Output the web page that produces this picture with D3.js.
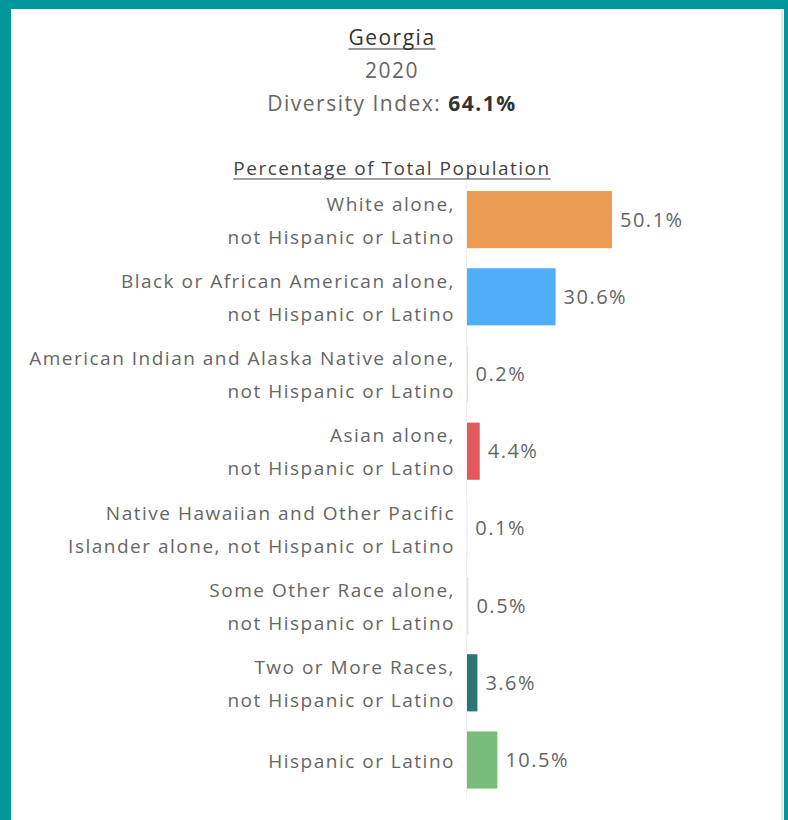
<!DOCTYPE html>
<html>
<head>
<meta charset="utf-8">
<script src="https://cdn.jsdelivr.net/npm/d3@7"></script>
<style>
  body { margin: 0; background: #00979a; }
  text { font-family: "Open Sans", sans-serif; letter-spacing: 1.5px; }
</style>
</head>
<body>
<script>
var width = 788;
var height = 820;

var stateName = "Georgia";
var year = "2020";
var diversityIndex = "64.1%";

var categories = [
    ["White alone,", "not Hispanic or Latino"],
    ["Black or African American alone,", "not Hispanic or Latino"],
    ["American Indian and Alaska Native alone,", "not Hispanic or Latino"],
    ["Asian alone,", "not Hispanic or Latino"],
    ["Native Hawaiian and Other Pacific", "Islander alone, not Hispanic or Latino"],
    ["Some Other Race alone,", "not Hispanic or Latino"],
    ["Two or More Races,", "not Hispanic or Latino"],
    ["Hispanic or Latino"]
];
var values = [50.1, 30.6, 0.2, 4.4, 0.1, 0.5, 3.6, 10.5];
var colors = ["#eb9c52", "#4fadf9", "#d9cce8", "#e35a5e", "#e8d6c8", "#e4e4e4", "#2d7474", "#77bc7b"];

var svg = d3.select("body")
    .append("svg")
    .attr("width", width)
    .attr("height", height)
    .style("display", "block")

// panel
svg.append("rect")
    .attr("x", 11).attr("y", 9)
    .attr("width", 773).attr("height", height - 9)
    .attr("fill", "#ffffff")
svg.append("rect")
    .attr("x", 781).attr("y", 9)
    .attr("width", 2).attr("height", height - 9)
    .attr("fill", "#e6e6e6")

var cx = 392;

function underlined(y, txt, size, color) {
    var t = svg.append("text")
        .attr("x", cx).attr("y", y)
        .attr("text-anchor", "middle")
        .attr("font-size", size)
        .attr("fill", color)
        .text(txt)
    var w = t.node().getComputedTextLength();
    svg.append("line")
        .attr("x1", cx - w / 2).attr("x2", cx + w / 2)
        .attr("y1", y + 4).attr("y2", y + 4)
        .attr("stroke", color).attr("stroke-width", 1.2)
}

underlined(45, stateName, 21, "#333333")

svg.append("text")
    .attr("x", cx).attr("y", 78)
    .attr("text-anchor", "middle")
    .attr("font-size", 21)
    .attr("fill", "#666666")
    .text(year)

var di = svg.append("text")
    .attr("x", cx).attr("y", 111)
    .attr("text-anchor", "middle")
    .attr("font-size", 21)
    .attr("fill", "#666666")
di.append("tspan").text("Diversity Index: ")
di.append("tspan").attr("font-weight", "bold").attr("fill", "#333333").text(diversityIndex)

underlined(175, "Percentage of Total Population", 19, "#444444")

var padding = { left: 467, top: 181, bottom: 20 }

var xScale = d3.scaleLinear()
    .domain([0, 50.1])
    .range([0, 145])

var yScale = d3.scaleBand()
    .domain(d3.range(categories.length))
    .range([padding.top, padding.top + 77.2 * categories.length])
    .paddingInner(0.26)
    .paddingOuter(0.13)

// baseline
svg.append("line")
    .attr("x1", padding.left - 0.5).attr("x2", padding.left - 0.5)
    .attr("y1", padding.top).attr("y2", padding.top + 77.2 * categories.length)
    .attr("stroke", "#f0f0f0")

svg.selectAll(".bar")
    .data(values)
    .enter()
    .append("rect")
    .attr("class", "bar")
    .attr("x", padding.left)
    .attr("y", function (d, i) { return yScale(i) })
    .attr("width", function (d) { return xScale(d) })
    .attr("height", yScale.bandwidth())
    .attr("fill", function (d, i) { return colors[i] })

svg.selectAll(".val")
    .data(values)
    .enter()
    .append("text")
    .attr("class", "val")
    .attr("x", function (d) { return padding.left + xScale(d) + 8 })
    .attr("y", function (d, i) { return yScale(i) + yScale.bandwidth() / 2 })
    .attr("dy", "0.35em")
    .attr("font-size", 20)
    .attr("fill", "#666666")
    .text(function (d) { return d.toFixed(1) + "%" })

var lab = svg.selectAll(".lab")
    .data(categories)
    .enter()
    .append("text")
    .attr("class", "lab")
    .attr("text-anchor", "end")
    .attr("font-size", 19)
    .attr("fill", "#666666")

lab.selectAll("tspan")
    .data(function (d, i) {
        var mid = yScale(i) + yScale.bandwidth() / 2 + 1;
        var n = d.length;
        return d.map(function (s, j) { return { s: s, y: mid + (j - (n - 1) / 2) * 33 } })
    })
    .enter()
    .append("tspan")
    .attr("x", 455)
    .attr("y", function (d) { return d.y })
    .attr("dy", "0.35em")
    .text(function (d) { return d.s })
</script>
</body>
</html>
